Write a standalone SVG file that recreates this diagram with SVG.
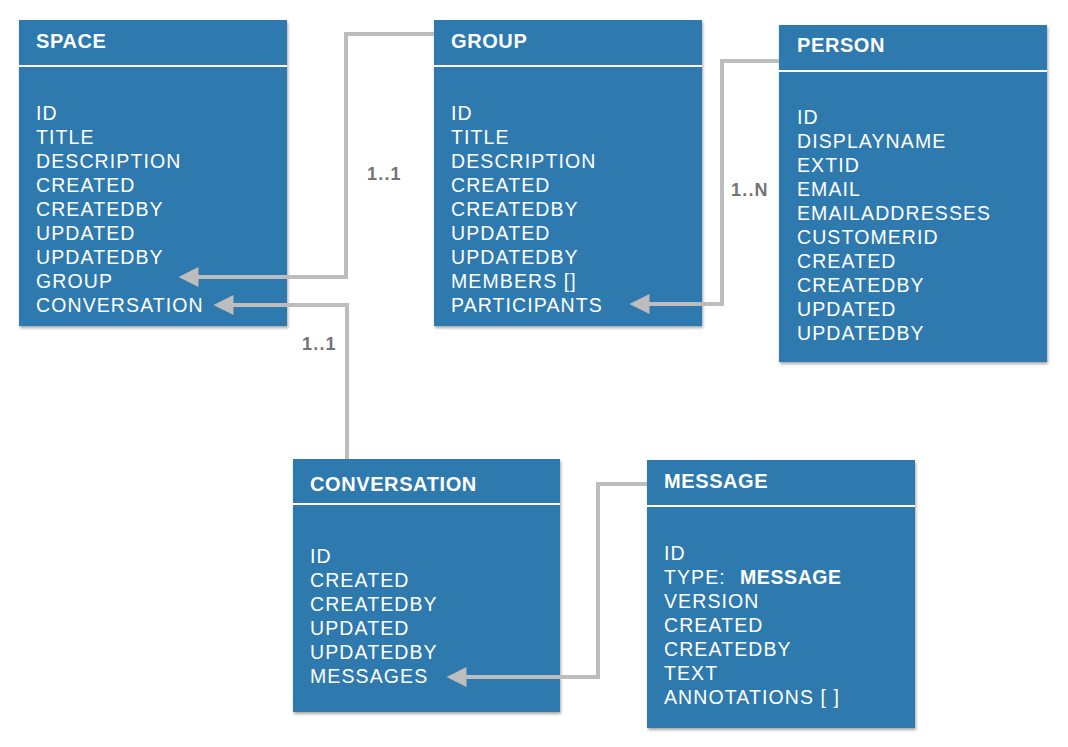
<svg xmlns="http://www.w3.org/2000/svg" width="1068" height="747" viewBox="0 0 1068 747">
<defs>
<filter id="sh" x="-5%" y="-5%" width="115%" height="115%">
<feDropShadow dx="1" dy="2" stdDeviation="1.5" flood-color="#000" flood-opacity="0.35"/>
</filter>
<marker id="arr" viewBox="0 0 20 20" refX="0.5" refY="10" markerWidth="20" markerHeight="20" markerUnits="userSpaceOnUse" orient="auto">
<path d="M20,10 L0,0 L0,20 Z" fill="#bdbdbd"/>
</marker>
</defs>
<style>
.box{fill:#2e79ae;filter:url(#sh)}
.sep{stroke:#ffffff;stroke-width:2}
.title{font-family:"Liberation Sans",Arial,sans-serif;font-weight:bold;font-size:20px;letter-spacing:0.6px;fill:#ffffff}
.f{font-family:"Liberation Sans",Arial,sans-serif;font-size:19.5px;letter-spacing:1.1px;fill:#ffffff}
.b{font-weight:bold;letter-spacing:0.6px}
.conn{fill:none;stroke:#bdbdbd;stroke-width:4}
.lbl{font-family:"Liberation Sans",Arial,sans-serif;font-weight:bold;font-size:18px;letter-spacing:1.2px;fill:#747474}
</style>
<rect width="1068" height="747" fill="#ffffff"/>

<g id="space">
<rect class="box" x="19" y="20" width="268" height="306"/>
<line class="sep" x1="19" y1="66" x2="287" y2="66"/>
<text class="title" x="36" y="48">SPACE</text>
<text class="f" x="36" y="120">ID</text>
<text class="f" x="36" y="144">TITLE</text>
<text class="f" x="36" y="168">DESCRIPTION</text>
<text class="f" x="36" y="192">CREATED</text>
<text class="f" x="36" y="216">CREATEDBY</text>
<text class="f" x="36" y="240">UPDATED</text>
<text class="f" x="36" y="264">UPDATEDBY</text>
<text class="f" x="36" y="288">GROUP</text>
<text class="f" x="36" y="312">CONVERSATION</text>
</g>

<g id="group">
<rect class="box" x="434" y="20" width="268" height="306"/>
<line class="sep" x1="434" y1="66" x2="702" y2="66"/>
<text class="title" x="451" y="48">GROUP</text>
<text class="f" x="451" y="120">ID</text>
<text class="f" x="451" y="144">TITLE</text>
<text class="f" x="451" y="168">DESCRIPTION</text>
<text class="f" x="451" y="192">CREATED</text>
<text class="f" x="451" y="216">CREATEDBY</text>
<text class="f" x="451" y="240">UPDATED</text>
<text class="f" x="451" y="264">UPDATEDBY</text>
<text class="f" x="451" y="288">MEMBERS []</text>
<text class="f" x="451" y="312">PARTICIPANTS</text>
</g>

<g id="person">
<rect class="box" x="779" y="25" width="268" height="337"/>
<line class="sep" x1="779" y1="71" x2="1047" y2="71"/>
<text class="title" x="797" y="52">PERSON</text>
<text class="f" x="797" y="124">ID</text>
<text class="f" x="797" y="148">DISPLAYNAME</text>
<text class="f" x="797" y="172">EXTID</text>
<text class="f" x="797" y="196">EMAIL</text>
<text class="f" x="797" y="220">EMAILADDRESSES</text>
<text class="f" x="797" y="244">CUSTOMERID</text>
<text class="f" x="797" y="268">CREATED</text>
<text class="f" x="797" y="292">CREATEDBY</text>
<text class="f" x="797" y="316">UPDATED</text>
<text class="f" x="797" y="340">UPDATEDBY</text>
</g>

<g id="conversation">
<rect class="box" x="293" y="459" width="267" height="253"/>
<line class="sep" x1="293" y1="504" x2="560" y2="504"/>
<text class="title" x="310" y="491">CONVERSATION</text>
<text class="f" x="310" y="563">ID</text>
<text class="f" x="310" y="587">CREATED</text>
<text class="f" x="310" y="611">CREATEDBY</text>
<text class="f" x="310" y="635">UPDATED</text>
<text class="f" x="310" y="659">UPDATEDBY</text>
<text class="f" x="310" y="683">MESSAGES</text>
</g>

<g id="message">
<rect class="box" x="647" y="460" width="268" height="268"/>
<line class="sep" x1="647" y1="506" x2="915" y2="506"/>
<text class="title" x="664" y="488">MESSAGE</text>
<text class="f" x="664" y="560">ID</text>
<text class="f" x="664" y="584">TYPE:<tspan class="b" x="740">MESSAGE</tspan></text>
<text class="f" x="664" y="608">VERSION</text>
<text class="f" x="664" y="632">CREATED</text>
<text class="f" x="664" y="656">CREATEDBY</text>
<text class="f" x="664" y="680">TEXT</text>
<text class="f" x="664" y="704">ANNOTATIONS [ ]</text>
</g>

<g id="connectors">
<polyline class="conn" points="434,34 346,34 346,277 198,277" marker-end="url(#arr)"/>
<polyline class="conn" points="347,459 347,305 233,305" marker-end="url(#arr)"/>
<polyline class="conn" points="779,61 722,61 722,304 649,304" marker-end="url(#arr)"/>
<polyline class="conn" points="647,484 598,484 598,677 466,677" marker-end="url(#arr)"/>
<text class="lbl" x="367" y="180">1..1</text>
<text class="lbl" x="302" y="350">1..1</text>
<text class="lbl" x="731" y="196">1..N</text>
</g>
</svg>
